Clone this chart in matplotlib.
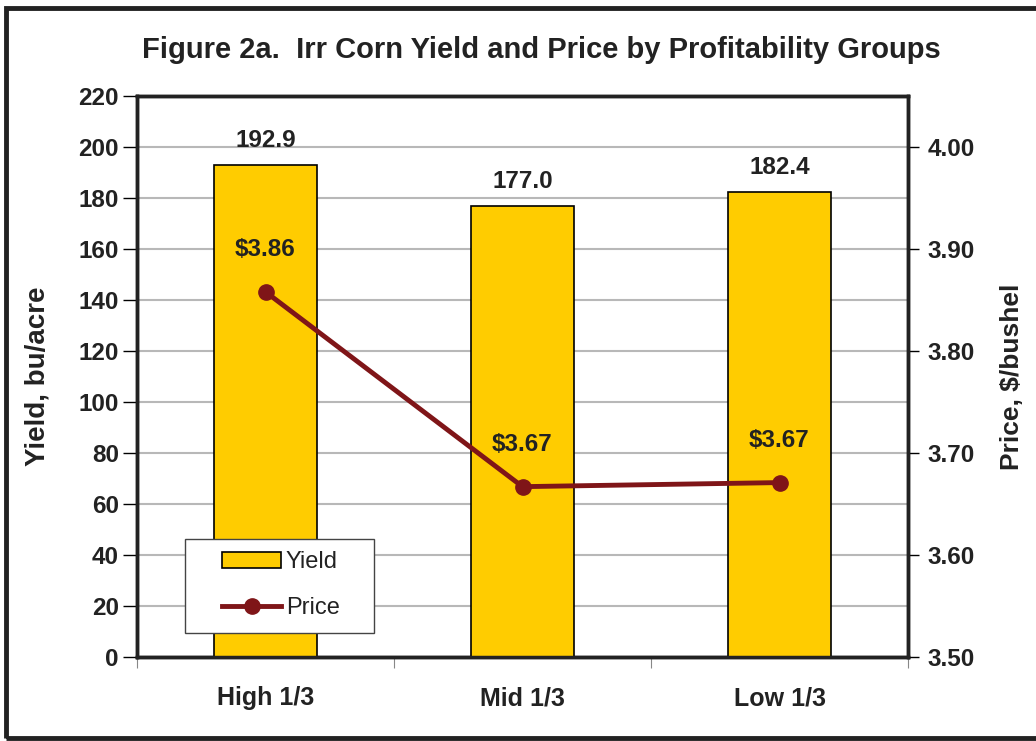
import matplotlib
matplotlib.use("Agg")
import matplotlib.pyplot as plt
from matplotlib.patches import Rectangle
from matplotlib.lines import Line2D

categories = ["High 1/3", "Mid 1/3", "Low 1/3"]
yield_vals = [192.9, 177.0, 182.4]
price_vals = [3.858, 3.667, 3.671]
price_labels = ["$3.86", "$3.67", "$3.67"]
yield_ticks = list(range(0, 221, 20))
price_ticks = [3.50, 3.60, 3.70, 3.80, 3.90, 4.00]

plt.rcParams['font.family'] = ['Liberation Sans', 'DejaVu Sans']

W, H = 1036, 741
fig = plt.figure(figsize=(W / 100, H / 100), dpi=100)
ax = fig.add_axes([137 / W, 1 - 657 / H, (908 - 137) / W, (657 - 96) / H])

bar_color = "#FFCC00"
line_color = "#7F1518"
txt = "#222222"
FS = 17.5
x = list(range(len(categories)))

ax.bar(x, yield_vals, width=0.4, color=bar_color, edgecolor="black", linewidth=1.2, zorder=3)
ax.set_xlim(-0.5, 2.5)
ax.set_ylim(0, 220)
ax.set_yticks(yield_ticks)
ax.set_yticklabels([str(v) for v in yield_ticks], fontsize=FS, fontweight="bold", color=txt)
ax.grid(axis="y", color="#B8B8B8", linewidth=1.5, zorder=0)
ax.set_axisbelow(True)
ax.set_xticks([-0.5, 0.5, 1.5, 2.5], minor=False)
ax.set_xticklabels([])
ax.set_xticks(x, minor=True)
ax.set_xticklabels(categories, minor=True, fontsize=18, fontweight="bold", color=txt)
ax.tick_params(axis="x", which="minor", length=0, pad=21)
ax.tick_params(axis="x", which="major", direction="out", length=8, color="#888888")
ax.tick_params(axis="y", direction="out", length=10, width=1, pad=3)
ax.set_ylabel("Yield, bu/acre", fontsize=20, fontweight="bold", labelpad=20, color=txt)
for s in ax.spines.values():
    s.set_linewidth(2.5)
    s.set_color(txt)

for xi, v in zip(x, yield_vals):
    ax.text(xi, v + 5, f"{v:.1f}", ha="center", va="bottom", fontsize=FS, fontweight="bold", color=txt)

ax2 = ax.twinx()
ax2.set_ylim(3.50, 4.05)
ax2.set_yticks(price_ticks)
ax2.set_yticklabels([f"{v:.2f}" for v in price_ticks], fontsize=FS, fontweight="bold", color=txt)
ax2.tick_params(axis="y", direction="out", length=8, width=1, pad=6)
ax2.plot(x, price_vals, color=line_color, linewidth=3.5, marker="o", markersize=11, zorder=5)
ax2.set_ylabel("Price, $/bushel", fontsize=19, fontweight="bold", labelpad=18, color=txt)
for s in ax2.spines.values():
    s.set_linewidth(2.5)
    s.set_color(txt)
for xi, v, lab in zip(x, price_vals, price_labels):
    ax2.text(xi, v + 0.03, lab, ha="center", va="bottom", fontsize=FS, fontweight="bold", color=txt)

# legend box drawn in figure pixels, legend content inside it
ax2.add_patch(Rectangle((185 / W, 1 - 633 / H), (374 - 185) / W, (633 - 539) / H,
                        transform=fig.transFigure, facecolor="white", edgecolor="#444444",
                        linewidth=1.0, zorder=8, clip_on=False))
handles = [Rectangle((0, 0), 1, 1, facecolor=bar_color, edgecolor="black", linewidth=1.2),
           Line2D([0], [0], color=line_color, linewidth=3.5, marker="o", markersize=11)]
leg = ax2.legend(handles, ["Yield", "Price"], loc="center left",
                 bbox_to_anchor=(222 / W, 1 - 585 / H), bbox_transform=fig.transFigure,
                 fontsize=17, frameon=False, borderpad=0, labelspacing=1.0,
                 handlelength=2.5, handletextpad=0.2, borderaxespad=0, labelcolor=txt)
leg.set_zorder(9)

fig.text((137 + 946) / 2 / W, 1 - 50 / H, "Figure 2a.  Irr Corn Yield and Price by Profitability Groups",
         ha="center", va="center", fontsize=21, fontweight="bold", color=txt)

fig.patches.append(Rectangle((6 / W, 3 / H), 1.1, 1 - 11 / H, transform=fig.transFigure,
                             fill=False, edgecolor=txt, linewidth=3.5, clip_on=False))

fig.savefig("out.png", dpi=100)
